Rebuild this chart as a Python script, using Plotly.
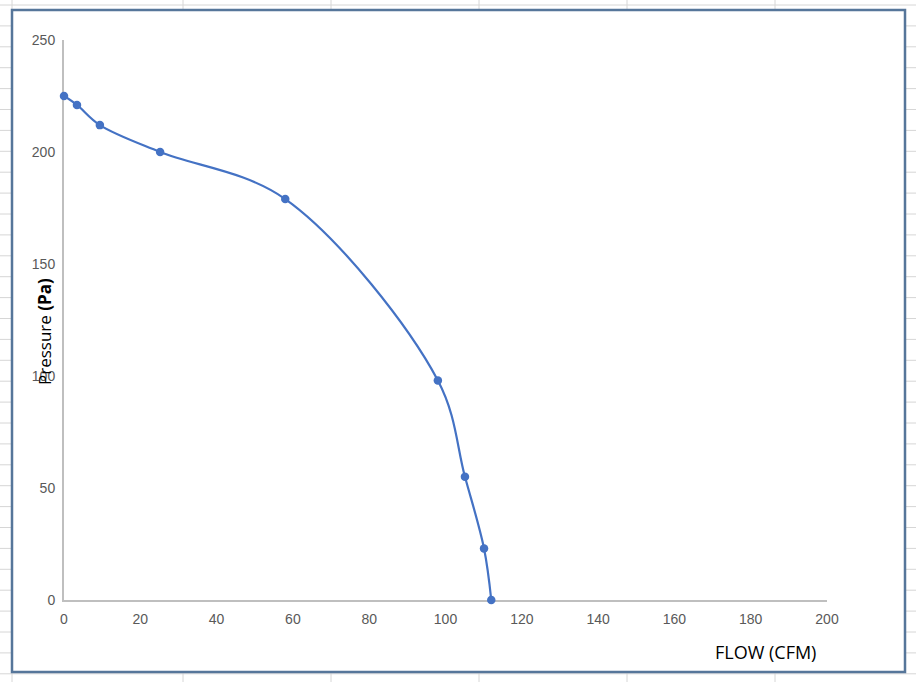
import plotly.graph_objects as go

# Data
flow_cfm = [0, 3.4, 9.4, 25.2, 58, 98, 105.1, 110.1, 112]
pressure_pa = [225, 221, 212, 200, 179, 98, 55, 23, 0]

x_ticks = [0, 20, 40, 60, 80, 100, 120, 140, 160, 180, 200]
y_ticks = [0, 50, 100, 150, 200, 250]

W, H = 916, 682
ML, MR, MT, MB = 64, 89, 40, 82
PW, PH = W - ML - MR, H - MT - MB


def px(x):
    return (x - ML) / PW


def py(y):
    return (H - MB - y) / PH


fig = go.Figure()
fig.add_trace(go.Scatter(
    x=flow_cfm, y=pressure_pa, mode="lines+markers",
    line=dict(color="#4472c4", width=2.2, shape="spline", smoothing=1),
    marker=dict(color="#4472c4", size=8.5),
    cliponaxis=False, showlegend=False,
))

shapes = []
grid = "#d6d6d6"
# spreadsheet cell grid (decoration)
for gx in [12, 183, 331, 479, 627, 775]:
    shapes.append(dict(type="line", xref="paper", yref="paper",
                       x0=px(gx), x1=px(gx), y0=py(0), y1=py(H),
                       line=dict(color=grid, width=1), layer="below"))
for k in range(33):
    gy = 5 + 20.9 * k
    shapes.append(dict(type="line", xref="paper", yref="paper",
                       x0=px(0), x1=px(W), y0=py(gy), y1=py(gy),
                       line=dict(color=grid, width=1), layer="below"))
# chart frame
shapes.append(dict(type="rect", xref="paper", yref="paper",
                   x0=px(12), x1=px(905), y0=py(10), y1=py(672),
                   fillcolor="white", line=dict(color="#56769a", width=2.5),
                   layer="below"))

fig.update_layout(
    width=W, height=H,
    margin=dict(l=ML, r=MR, t=MT, b=MB),
    paper_bgcolor="white", plot_bgcolor="rgba(0,0,0,0)",
    shapes=shapes,
    font=dict(family="Liberation Sans, Arial, sans-serif", color="#595959", size=14),
    xaxis=dict(range=[0, 200], tickvals=x_ticks, showgrid=False, zeroline=False,
               showline=True, linecolor="#bfbfbf", linewidth=2, layer="below traces",
               ticks="outside", ticklen=5, tickcolor="rgba(0,0,0,0)",
               tickfont=dict(size=14, color="#595959")),
    yaxis=dict(range=[0, 250], tickvals=y_ticks, showgrid=False, zeroline=False,
               showline=True, linecolor="#bfbfbf", linewidth=2, layer="below traces",
               ticks="outside", ticklen=4, tickcolor="rgba(0,0,0,0)",
               tickfont=dict(size=14, color="#595959")),
    annotations=[
        dict(text="Pressure <b>(Pa)</b>", xref="paper", yref="paper",
             x=px(45), y=py(332), textangle=-90, showarrow=False,
             xanchor="center", yanchor="middle",
             font=dict(family="Open Sans, Liberation Sans, sans-serif", size=17, color="#000000")),
        dict(text="FLOW (CFM)", xref="paper", yref="paper",
             x=px(765), y=py(652), showarrow=False,
             xanchor="center", yanchor="middle",
             font=dict(family="Open Sans, Liberation Sans, sans-serif", size=18, color="#000000")),
    ],
)

fig.write_html("out.html", config={"displayModeBar": False},
               post_script="document.body.style.margin='0';")
